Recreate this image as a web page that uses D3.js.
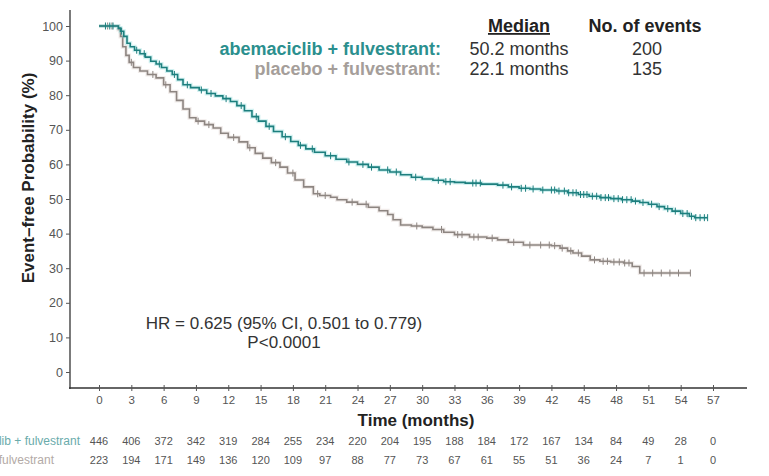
<!DOCTYPE html>
<html>
<head>
<meta charset="utf-8">
<script src="https://cdn.jsdelivr.net/npm/d3@7"></script>
<style>
  body { margin: 0; background: #fff; }
  svg { font-family: "Liberation Sans", Arial, sans-serif; }
</style>
</head>
<body>
<svg id="chart"></svg>
<script>
const width = 769;
const height = 476;

// step points [month, event-free %]
const abemaSteps = [[0,100],[1.5,100],[1.8,99.4],[2.0,98.5],[2.3,97],[2.6,95],[2.9,94],[3.3,93],[3.8,92],[4.3,91],[4.8,89.8],[5.3,89],[5.8,88],[6.3,87],[6.8,86],[7.3,84.5],[7.8,83],[8.5,82.2],[9.3,81.5],[10,80.5],[10.8,79.8],[11.5,79],[12.2,78.2],[12.8,77],[13.5,75.5],[14.2,73.8],[14.8,72.5],[15.5,71],[16.2,69.5],[17,68],[17.8,66.6],[18.5,65.5],[19.2,64.5],[20,63.5],[21,62.5],[22,61.5],[23,60.7],[24,60],[25,59.2],[26,58.4],[27,57.8],[28,57],[29,56.3],[30,55.8],[31,55.4],[32,55],[33,54.8],[34,54.6],[35.5,54.3],[37,54],[38,53.5],[39,53.1],[40,52.9],[41,52.6],[42.5,52.3],[43.5,51.8],[44.5,51.3],[45.5,50.8],[46.5,50.4],[47.5,50.1],[48.5,49.8],[49.5,49.4],[50.2,49.0],[51,48.5],[51.8,47.8],[52.5,47.2],[53.2,46.5],[54,45.8],[54.8,45],[55.3,44.6]];
const abemaEnd = 56.5;
const abemaCensor = [0.6,1.0,1.3,2.1,3.5,4.2,5.6,7.0,8.2,9.5,10.4,11.8,13.2,14.6,15.8,17.3,18.7,19.8,21.5,23.2,24.5,25.3,26.8,27.6,29.4,31.5,32.2,32.6,34.7,35.0,35.4,37.5,38.3,39.2,39.6,40.3,41.2,42.0,42.3,42.7,43.2,43.6,44.0,44.3,44.7,45.0,45.3,45.8,46.2,46.6,47.0,47.3,47.8,48.2,48.6,49.0,49.4,49.8,50.5,51.3,52.0,52.8,53.5,54.2,54.6,55.0,55.4,55.8,56.2,56.5];

const placeboSteps = [[0,100],[1.5,100],[1.8,99],[2.0,97],[2.2,94],[2.5,91.5],[2.8,89.5],[3.2,88],[3.8,87],[4.5,86],[5.3,85],[6,83],[6.6,81],[7.2,78.5],[7.8,76],[8.4,73.5],[9,72.5],[9.8,71.5],[10.6,70.5],[11.3,69],[12,67.8],[13,66.5],[13.8,64.8],[14.5,63.2],[15.2,61.8],[16,60.5],[16.8,59.2],[17.5,57.5],[18.2,55.5],[19,53.5],[19.9,51.5],[20.5,51],[21.5,50.5],[22.1,49.8],[23,49.1],[24,48.5],[25,47.6],[26,46.6],[26.8,45.5],[27.3,44],[28,42.5],[29,42.2],[30,41.8],[31,41.2],[32,40.4],[33,39.7],[34.4,39],[36,38.7],[37,38.2],[38,37.5],[39.4,36.7],[42,36.5],[42.8,35.8],[43.5,35],[44,34.4],[44.8,33.5],[45.6,32.4],[46.5,32],[47.5,31.8],[48.7,31.5],[49.5,30.5],[50.2,28.6]];
const placeboEnd = 54.9;
const placeboCensor = [0.8,1.2,3.0,5.0,6.2,9.2,10.2,12.5,14.0,16.4,18.0,20.3,21.0,23.5,24.8,29.5,31.8,33.3,33.7,34.8,35.2,36.5,38.5,40.0,41.0,41.8,42.3,43.0,43.8,44.5,46.0,46.8,47.2,47.8,48.3,48.8,49.2,50.6,51.4,52.2,53.0,53.8,54.9];

const xTicks = [0,3,6,9,12,15,18,21,24,27,30,33,36,39,42,45,48,51,54,57];
const yTicks = [0,10,20,30,40,50,60,70,80,90,100];
const atRiskAbema = [446,406,372,342,319,284,255,234,220,204,195,188,184,172,167,134,84,49,28,0];
const atRiskPlacebo = [223,194,171,149,136,120,109,97,88,77,73,67,61,55,51,36,24,7,1,0];

const teal = '#1d7f7e';
const tealText = '#2b8f8e';
const grey = '#8d8581';
const greyText = '#a59e9a';

const svg = d3.select('#chart').attr('width', width).attr('height', height);

const x = d3.scaleLinear().domain([0, 57]).range([99, 713]);
const y = d3.scaleLinear().domain([0, 100]).range([372, 26]);

// axes
svg.append('line').attr('x1', 70).attr('x2', 70).attr('y1', 10).attr('y2', 389).attr('stroke', '#333').attr('stroke-width', 1.3);
svg.append('line').attr('x1', 69).attr('x2', 747).attr('y1', 388).attr('y2', 388).attr('stroke', '#333').attr('stroke-width', 1.3);

const yAxis = svg.append('g').attr('transform', 'translate(70,0)')
  .call(d3.axisLeft(y).tickValues(yTicks).tickSize(4).tickPadding(3));
yAxis.select('.domain').remove();
yAxis.selectAll('line').attr('stroke', '#555');
yAxis.selectAll('text').attr('font-size', 12.5).attr('fill', '#555').attr('font-family', null);

const xAxis = svg.append('g').attr('transform', 'translate(0,388)')
  .call(d3.axisBottom(x).tickValues(xTicks).tickSize(3).tickPadding(5));
xAxis.select('.domain').remove();
xAxis.selectAll('line').attr('stroke', '#555').attr('y1', -3);
xAxis.selectAll('text').attr('font-size', 11.5).attr('fill', '#555').attr('font-family', null);

svg.append('text').attr('x', 416).attr('y', 426).attr('text-anchor', 'middle')
  .attr('font-size', 17).attr('font-weight', 'bold').attr('fill', '#222').text('Time (months)');
svg.append('text').attr('transform', 'translate(34,178) rotate(-90)').attr('text-anchor', 'middle')
  .attr('font-size', 17).attr('font-weight', 'bold').attr('fill', '#222').text('Event\u2013free Probability (%)');

// curves
const line = d3.line().x(d => x(d[0])).y(d => y(d[1])).curve(d3.curveStepAfter);

function survAt(steps, t) {
  let s = steps[0][1];
  steps.forEach(d => { if (d[0] <= t) s = d[1]; });
  return s;
}

function drawCurve(steps, end, censor, color, glow) {
  const pts = steps.concat([[end, steps[steps.length - 1][1]]]);
  if (glow) {
    svg.append('path').datum(pts).attr('d', line).attr('fill', 'none')
      .attr('stroke', glow).attr('stroke-width', 4).attr('stroke-opacity', 0.35);
  }
  svg.append('path').datum(pts).attr('d', line).attr('fill', 'none')
    .attr('stroke', color).attr('stroke-width', 1.6);
  svg.append('g').selectAll('line').data(censor).join('line')
    .attr('x1', d => x(d)).attr('x2', d => x(d))
    .attr('y1', d => y(survAt(steps, d)) - 3.5).attr('y2', d => y(survAt(steps, d)) + 3.5)
    .attr('stroke', color).attr('stroke-width', 1);
}

drawCurve(placeboSteps, placeboEnd, placeboCensor, grey, '#d8c8c4');
drawCurve(abemaSteps, abemaEnd, abemaCensor, teal, '#7fd8d8');

// legend
const legend = svg.append('g').attr('font-size', 18);
legend.append('text').attr('x', 519).attr('y', 32).attr('text-anchor', 'middle').attr('font-weight', 'bold')
  .attr('fill', '#222').attr('text-decoration', 'underline').text('Median');
legend.append('text').attr('x', 645).attr('y', 32).attr('text-anchor', 'middle').attr('font-weight', 'bold')
  .attr('fill', '#222').text('No. of events');
legend.append('text').attr('x', 441).attr('y', 54.5).attr('text-anchor', 'end').attr('font-weight', 'bold')
  .attr('fill', tealText).text('abemaciclib + fulvestrant:');
legend.append('text').attr('x', 441).attr('y', 75).attr('text-anchor', 'end').attr('font-weight', 'bold')
  .attr('fill', greyText).text('placebo + fulvestrant:');
legend.append('text').attr('x', 519).attr('y', 54.5).attr('text-anchor', 'middle').attr('fill', '#333').text('50.2 months');
legend.append('text').attr('x', 519).attr('y', 75).attr('text-anchor', 'middle').attr('fill', '#333').text('22.1 months');
legend.append('text').attr('x', 647).attr('y', 54.5).attr('text-anchor', 'middle').attr('fill', '#333').text('200');
legend.append('text').attr('x', 647).attr('y', 75).attr('text-anchor', 'middle').attr('fill', '#333').text('135');

// hazard ratio
svg.append('text').attr('x', 284).attr('y', 329).attr('text-anchor', 'middle').attr('font-size', 17)
  .attr('fill', '#333').text('HR = 0.625 (95% CI, 0.501 to 0.779)');
svg.append('text').attr('x', 284).attr('y', 348).attr('text-anchor', 'middle').attr('font-size', 17)
  .attr('fill', '#333').text('P<0.0001');

// numbers at risk (row labels run off the left edge, as in the source)
const risk = svg.append('g').attr('font-size', 11);
risk.append('text').attr('x', 80).attr('y', 445).attr('text-anchor', 'end').attr('fill', '#6aabab')
  .attr('font-size', 12).text('abemaciclib + fulvestrant');
risk.append('text').attr('x', 54).attr('y', 464).attr('text-anchor', 'end').attr('fill', '#b3aaa6')
  .attr('font-size', 12).text('placebo + fulvestrant');
risk.selectAll('.ra').data(atRiskAbema).join('text').attr('class', 'ra')
  .attr('x', (d, i) => x(xTicks[i])).attr('y', 445).attr('text-anchor', 'middle').attr('fill', '#555').text(d => d);
risk.selectAll('.rp').data(atRiskPlacebo).join('text').attr('class', 'rp')
  .attr('x', (d, i) => x(xTicks[i])).attr('y', 464).attr('text-anchor', 'middle').attr('fill', '#555').text(d => d);
</script>
</body>
</html>
